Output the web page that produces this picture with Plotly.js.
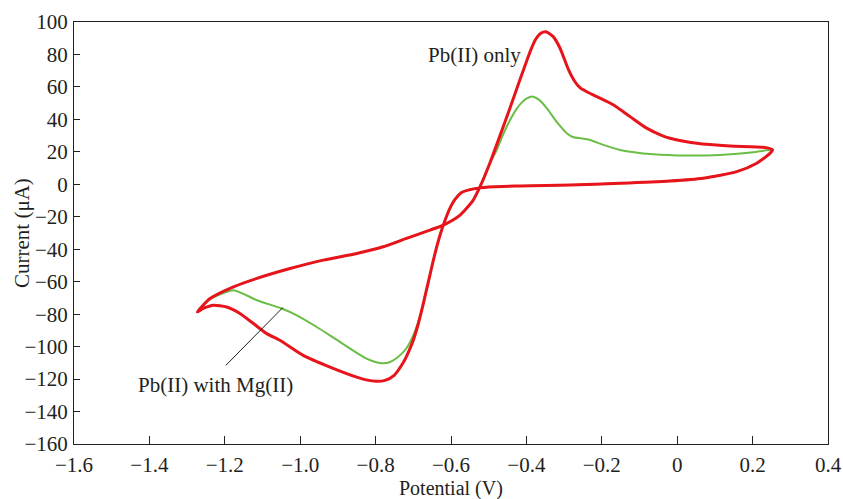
<!DOCTYPE html>
<html>
<head>
<meta charset="utf-8">
<script src="https://cdn.plot.ly/plotly-3.0.1.min.js"></script>
<style>html,body{margin:0;padding:0;background:#fff;}#chart{width:843px;height:499px;}</style>
</head>
<body>
<div id="chart"></div>
<script>
// Pb(II) only (red)
const redPotential = [0.253,0.246,0.211,0.158,0.069,-0.019,-0.152,-0.284,-0.417,-0.500,-0.540,-0.572,-0.590,-0.603,-0.612,-0.621,-0.630,-0.639,-0.648,-0.657,-0.666,-0.676,-0.688,-0.700,-0.714,-0.727,-0.750,-0.775,-0.799,-0.825,-0.850,-0.921,-0.992,-1.054,-1.089,-1.124,-1.160,-1.195,-1.230,-1.257,-1.273,
  -1.239,-1.177,-1.115,-1.027,-0.939,-0.850,-0.780,-0.718,-0.656,-0.620,-0.576,-0.541,-0.523,-0.497,-0.470,-0.4435,-0.417,-0.400,-0.388,-0.375,-0.362,-0.348,-0.329,-0.311,-0.289,-0.272,-0.258,-0.240,-0.213,-0.170,-0.125,-0.081,-0.040,-0.019,0.052,0.140,0.228,0.253];
const redCurrent = [21.2,19.1,13.0,7.8,3.7,2.0,0.6,-0.4,-1.0,-1.6,-2.8,-5.0,-9.5,-14.8,-19.8,-25.5,-32,-39.5,-48,-57,-66,-76,-87,-96,-104,-110,-117.5,-120.8,-121.4,-120.5,-118.8,-112.6,-105.4,-96.1,-92,-85.8,-79.6,-75.6,-74.5,-76.5,-78.6,
  -70.4,-63.2,-58.0,-51.9,-46.7,-42.6,-38.5,-33.3,-28.2,-25.1,-19.0,-9.7,-1.5,13,30,47,64.5,75.5,83,89.5,93,94,91,84,71,63.5,59.5,57,54,49,41.7,34.6,30,28.4,25.3,23.6,22.8,21.2];

// Pb(II) with Mg(II) (green)
const greenPotential = [0.253,0.246,0.211,0.158,0.069,-0.019,-0.152,-0.284,-0.417,-0.500,-0.540,-0.572,-0.590,-0.603,-0.612,-0.621,-0.630,-0.639,-0.648,-0.657,-0.666,-0.676,-0.688,-0.700,-0.718,-0.744,-0.765,-0.788,-0.824,-0.894,-0.956,-1.009,-1.049,-1.115,-1.177,-1.239,-1.273,
  -1.239,-1.177,-1.115,-1.027,-0.939,-0.850,-0.780,-0.718,-0.656,-0.620,-0.576,-0.541,-0.523,-0.497,-0.479,-0.465,-0.452,-0.439,-0.426,-0.412,-0.399,-0.382,-0.366,-0.346,-0.320,-0.293,-0.275,-0.255,-0.231,-0.196,-0.152,-0.063,0.025,0.114,0.202,0.253];
const greenCurrent = [21.2,19.1,13.0,7.8,3.7,2.0,0.6,-0.4,-1.0,-1.6,-2.8,-5.0,-9.5,-14.8,-19.8,-25.5,-32,-39.5,-48,-57,-66,-76,-85.5,-93,-101,-107,-109.8,-110.1,-107.4,-97.2,-87.9,-80.7,-76.5,-71.4,-65.2,-70.8,-78.6,
  -70.4,-63.2,-58.0,-51.9,-46.7,-42.6,-38.5,-33.3,-28.2,-25.1,-19.0,-9.7,-1.5,13,21,29,35.6,41.5,46.5,50.5,53,54,52,46.9,38.6,31.5,29,28.3,27.3,24.3,21.2,18.5,17.7,18.1,19.8,21.2];

const xTickValues = [-1.6,-1.4,-1.2,-1.0,-0.8,-0.6,-0.4,-0.2,0,0.2,0.4];
const xTickLabels = ['\u22121.6','\u22121.4','\u22121.2','\u22121.0','\u22120.8','\u22120.6','\u22120.4','\u22120.2','0','0.2','0.4'];

const font = {family: 'Liberation Serif, Times New Roman, serif', size: 21, color: '#231f20'};
const titleFont = {family: 'Liberation Serif, Times New Roman, serif', size: 20, color: '#231f20'};

const traces = [
  {x: greenPotential, y: greenCurrent, mode: 'lines', name: 'Pb(II) with Mg(II)',
   line: {color: '#6abd45', width: 2, shape: 'spline', smoothing: 0.6}},
  {x: redPotential, y: redCurrent, mode: 'lines', name: 'Pb(II) only',
   line: {color: '#e8141c', width: 3, shape: 'spline', smoothing: 0.6}}
];

const layout = {
  width: 843, height: 499,
  margin: {l: 74, r: 15, t: 22, b: 55},
  paper_bgcolor: '#fff', plot_bgcolor: '#fff',
  showlegend: false,
  font: font,
  xaxis: {
    range: [-1.6, 0.4], tickvals: xTickValues, ticktext: xTickLabels,
    ticks: 'inside', ticklen: 8, tickcolor: '#231f20', tickwidth: 1,
    showline: true, linecolor: '#231f20', linewidth: 1, mirror: true,
    showgrid: false, zeroline: false, tickfont: font, ticklabelstandoff: 2
  },
  yaxis: {
    range: [-160, 100], dtick: 20, tick0: 0,
    ticks: 'inside', ticklen: 6, tickcolor: '#231f20', tickwidth: 1,
    showline: true, linecolor: '#231f20', linewidth: 1, mirror: true,
    showgrid: false, zeroline: false, tickfont: font, ticklabelstandoff: 1
  },
  shapes: [
    {type: 'line', xref: 'x', yref: 'y', x0: -1.197, y0: -111.5, x1: -1.046, y1: -75.9,
     line: {color: '#231f20', width: 1}}
  ],
  annotations: [
    {x: -0.539, y: 79.8, xref: 'x', yref: 'y', text: 'Pb(II) only', showarrow: false, font: font},
    {x: -1.226, y: -123.9, xref: 'x', yref: 'y', text: 'Pb(II) with Mg(II)', showarrow: false, font: font},
    {x: 451, y: 488, xref: 'paper', yref: 'paper', text: 'Potential (V)', showarrow: false, font: titleFont,
     xanchor: 'center', yanchor: 'middle', borderpad: 0},
    {x: 22, y: 233, xref: 'paper', yref: 'paper', text: 'Current (\u03bcA)', showarrow: false, font: font,
     textangle: -90, xanchor: 'center', yanchor: 'middle'}
  ]
};

// convert pixel positions of axis-title annotations into paper fractions
const pw = 843 - 74 - 15, ph = 499 - 22 - 55;
layout.annotations[2].x = (451 - 74) / pw; layout.annotations[2].y = (499 - 55 - 488) / ph;
layout.annotations[3].x = (22 - 74) / pw; layout.annotations[3].y = (499 - 55 - 233) / ph;

Plotly.newPlot('chart', traces, layout, {staticPlot: true, displayModeBar: false});
</script>
</body>
</html>
